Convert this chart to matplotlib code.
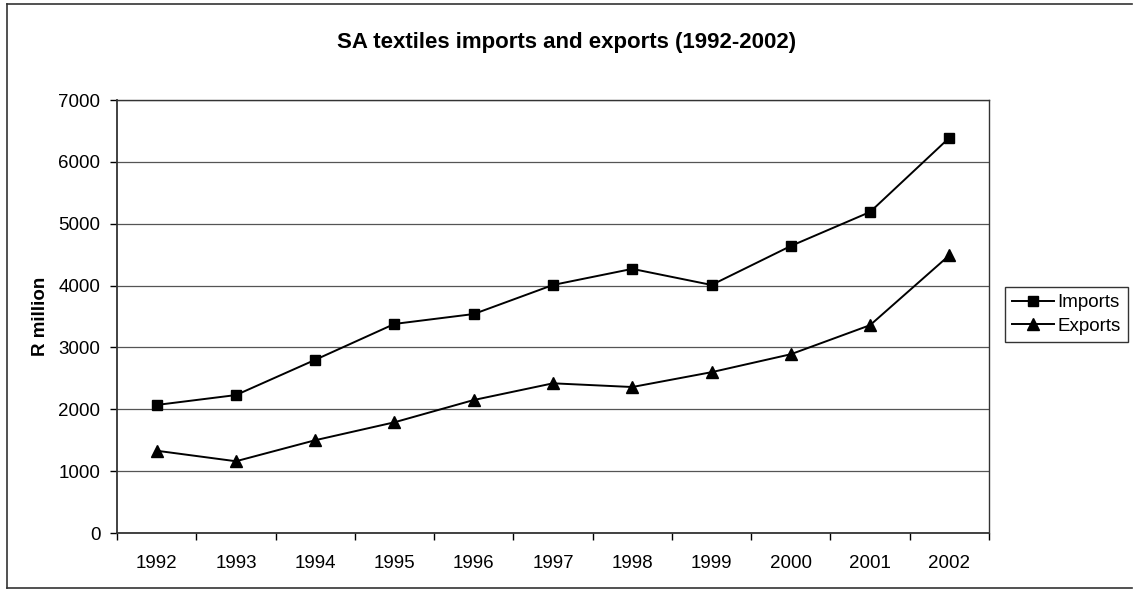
import matplotlib.pyplot as plt
from matplotlib.lines import Line2D

plt.rcParams['font.family'] = ['Liberation Sans', 'DejaVu Sans']

years = ['1992', '1993', '1994', '1995', '1996', '1997', '1998', '1999', '2000', '2001', '2002']
imports = [2070, 2230, 2800, 3380, 3540, 4010, 4270, 4010, 4640, 5190, 6390]
exports = [1330, 1160, 1500, 1790, 2150, 2420, 2360, 2600, 2890, 3360, 4490]

fig = plt.figure(figsize=(11.33, 5.90), dpi=100)
ax = fig.add_axes([0.1033, 0.0966, 0.7696, 0.7339])

x = list(range(len(years)))
ax.plot(x, imports, color='black', lw=1.4, marker='s', ms=7, label='Imports', zorder=3)
ax.plot(x, exports, color='black', lw=1.4, marker='^', ms=8, label='Exports', zorder=3)

ax.set_xlim(-0.5, len(years) - 0.5)
ax.set_ylim(0, 7000)
ax.set_yticks(range(0, 7001, 1000))
ax.yaxis.grid(True, color='#555555', lw=0.9)
ax.set_axisbelow(True)

# tick marks sit between categories, labels at the centres
ax.set_xticks([i - 0.5 for i in range(len(years) + 1)])
ax.set_xticklabels([])
ax.set_xticks(x, minor=True)
ax.set_xticklabels(years, minor=True)
ax.tick_params(axis='x', which='major', length=5, width=1, direction='out')
ax.tick_params(axis='x', which='minor', length=0, pad=16, labelsize=13.5)
ax.tick_params(axis='y', length=5, width=1, direction='out', pad=7, labelsize=13.5)

for s in ax.spines.values():
    s.set_color('#333333')
    s.set_linewidth(1.0)
ax.spines['left'].set_linewidth(1.3)
ax.spines['bottom'].set_linewidth(1.3)

ax.set_ylabel('R million', fontsize=13.5, fontweight='bold', labelpad=7)
fig.text(0.5, 0.928, 'SA textiles imports and exports (1992-2002)',
         ha='center', va='center', fontsize=16, fontweight='bold')

leg = fig.legend(loc='center right', bbox_to_anchor=(0.9956, 0.467), fontsize=13.5,
                 handlelength=2.2, handletextpad=0.2, borderpad=0.4, labelspacing=0.35,
                 frameon=True, fancybox=False, edgecolor='black', borderaxespad=0)
leg.get_frame().set_linewidth(1.0)

# outer chart border
fig.add_artist(Line2D([0.0062, 0.0062], [0.0034, 0.9932], transform=fig.transFigure, color='#333333', lw=1.2))
fig.add_artist(Line2D([0.0062, 0.999], [0.9932, 0.9932], transform=fig.transFigure, color='#333333', lw=1.2))
fig.add_artist(Line2D([0.0062, 0.999], [0.0034, 0.0034], transform=fig.transFigure, color='#333333', lw=1.2))

fig.savefig('out.png', dpi=100)
